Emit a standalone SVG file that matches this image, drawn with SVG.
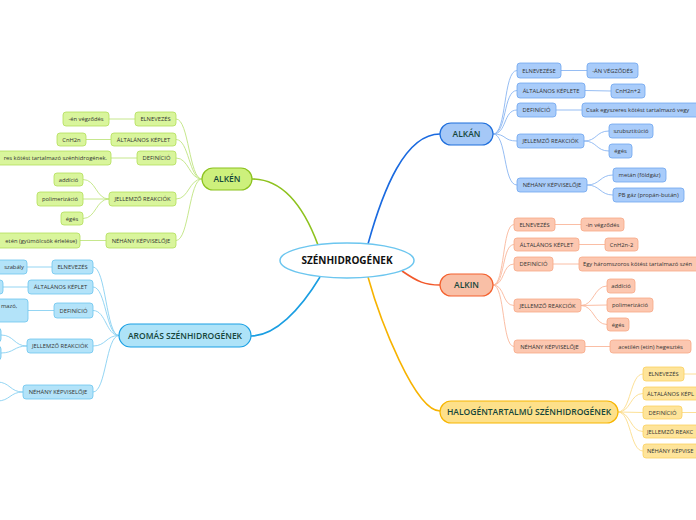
<svg xmlns="http://www.w3.org/2000/svg" width="696" height="520" viewBox="0 0 696 520">
<style>
text{font-family:"Open Sans","Liberation Sans",sans-serif;fill:#333;}
.t{font-size:5.8px;text-anchor:middle;}
.ts{font-size:5.8px;text-anchor:start;}
.te{font-size:5.8px;text-anchor:end;}
.m{font-size:8.5px;font-weight:600;text-anchor:middle;fill:#15463a;}
.c{font-size:10px;font-weight:700;text-anchor:middle;fill:#111;}
.ln{fill:none;stroke-width:0.9;}
.mc{fill:none;stroke-width:1.6;}
.bA{fill:#a9ccfa;stroke:#6ea6ef;stroke-width:0.8;}
.bI{fill:#fcc7b0;stroke:#f7a887;stroke-width:0.8;}
.bH{fill:#fee49a;stroke:#fbd060;stroke-width:0.8;}
.bE{fill:#d9f59c;stroke:#b2de5a;stroke-width:0.8;}
.bR{fill:#b3e3f9;stroke:#6cc5ef;stroke-width:0.8;}
.lA{stroke:#8ab6f2;}
.lI{stroke:#f9b79b;}
.lH{stroke:#fcdc8a;}
.lE{stroke:#c0e480;}
.lR{stroke:#88d0f2;}
</style>
<g id="connectors">
<path class="mc" stroke="#1a6ae0" d="M368,244 C383,190 405,134 440,134"/>
<path class="mc" stroke="#f2582a" d="M402,271 C418,282 425,285 440,285"/>
<path class="mc" stroke="#f7b300" d="M368,277 C380,320 415,411 440,411"/>
<path class="mc" stroke="#8ec21e" d="M318,245 C305,210 285,179 252,179"/>
<path class="mc" stroke="#1a9ee2" d="M320,277 C300,310 275,336 251,336"/>
<g class="ln lA">
<path d="M493,134 C507,134 503,70.5 517,70.5"/>
<path d="M493,134 C507,134 503,90.5 517,90.5"/>
<path d="M493,134 C507,134 503,110 517,110"/>
<path d="M493,134 C507,134 503,141 517,141"/>
<path d="M493,134 C507,134 503,185 517,185"/>
<path d="M561,70.5 L587,70.5"/>
<path d="M585,90.5 L611,91"/>
<path d="M556,110 L582,110"/>
<path d="M584,141 C597,141 596,131 609,131"/>
<path d="M584,141 C597,141 596,151 609,151"/>
<path d="M587,185 C600,185 600,175 613,175"/>
<path d="M587,185 C600,185 600,195 613,195"/>
</g>
<g class="ln lI">
<path d="M493,285 C505,285 502,224.5 514,224.5"/>
<path d="M493,285 C505,285 502,244.5 514,244.5"/>
<path d="M493,285 C505,285 502,264 514,264"/>
<path d="M493,285 C505,285 502,305.5 514,305.5"/>
<path d="M493,285 C505,285 502,346.5 514,346.5"/>
<path d="M555,224.5 L581,224.5"/>
<path d="M579,244.5 L605,244.5"/>
<path d="M553,264 L579,264"/>
<path d="M581,305.5 C594,305.5 594,286 607,286"/>
<path d="M581,305.5 L607,305"/>
<path d="M581,305.5 C594,305.5 594,324.5 607,324.5"/>
<path d="M585,346.5 L610,346.5"/>
</g>
<g class="ln lH">
<path d="M618,412 C631,412 630,374 643,374"/>
<path d="M618,412 C631,412 630,393.5 643,393.5"/>
<path d="M618,412 L643,412.5"/>
<path d="M618,412 C631,412 630,431.5 643,431.5"/>
<path d="M618,412 C631,412 630,451 643,451"/>
<path d="M684,374 L696,374"/>
<path d="M682,412.5 L696,412.5"/>
</g>
<g class="ln lE">
<path d="M202,179 C189,179 189,119 176,119"/>
<path d="M202,179 C189,179 189,139.5 176,139.5"/>
<path d="M202,179 C189,179 189,158 176,158"/>
<path d="M202,179 C189,179 189,199 176,199"/>
<path d="M202,179 C189,179 189,240.5 176,240.5"/>
<path d="M135,119 L109,119"/>
<path d="M111,139.5 L86,139.5"/>
<path d="M137,158 L111,158"/>
<path d="M109,199 C96,199 96,179.5 83,179.5"/>
<path d="M109,199 L83,199"/>
<path d="M109,199 C96,199 96,218.5 83,218.5"/>
<path d="M106,240.5 L80,240.5"/>
</g>
<g class="ln lR">
<path d="M119,335.5 C106,335.5 106,267 93,267"/>
<path d="M119,335.5 C106,335.5 106,287 93,287"/>
<path d="M119,335.5 C106,335.5 106,310.5 93,310.5"/>
<path d="M119,335.5 C106,335.5 106,346 93,346"/>
<path d="M119,335.5 C106,335.5 106,392 93,392"/>
<path d="M52,267 L27,267"/>
<path d="M28,287 L3,287"/>
<path d="M54,310.5 L28,310.5"/>
<path d="M27,346 C14,346 14,335 1,335"/>
<path d="M27,346 C14,346 14,353 1,353"/>
<path d="M23,392 C10,392 10,382 -3,382"/>
<path d="M23,392 C10,392 10,401 -3,401"/>
</g>
</g>

<g id="center">
<ellipse cx="347" cy="260.5" rx="67" ry="17.5" fill="#fff" stroke="#6cc6ef" stroke-width="1.5"/>
<text class="c" x="347" y="264">SZÉNHIDROGÉNEK</text>
</g>

<g id="alkan">
<rect x="440" y="123" width="53" height="22" rx="11" fill="#a5c8f7" stroke="#1f6fdc" stroke-width="1.2"/>
<text class="m" x="466.5" y="137">ALKÁN</text>
</g>
<g id="alkan-elnevezese"><rect class="bA" x="517" y="63" width="44" height="15" rx="3"/><text class="t" x="539" y="72.6">ELNEVEZÉSE</text></g>
<g id="alkan-vegzodes"><rect class="bA" x="587" y="63" width="51" height="15" rx="3"/><text class="t" x="612.5" y="72.6">-ÁN VÉGZŐDÉS</text></g>
<g id="alkan-keplet"><rect class="bA" x="517" y="83" width="68" height="15" rx="3"/><text class="t" x="551" y="92.6">ÁLTALÁNOS KÉPLETE</text></g>
<g id="alkan-cnh"><rect class="bA" x="611" y="84" width="34" height="14" rx="3"/><text class="t" x="628" y="93.1">CnH2n+2</text></g>
<g id="alkan-definicio"><rect class="bA" x="517" y="103" width="39" height="14" rx="3"/><text class="t" x="536.5" y="112.1">DEFINÍCIÓ</text></g>
<g id="alkan-def-text"><rect class="bA" x="582" y="103" width="130" height="14" rx="3"/><text class="ts" x="586" y="112.1">Csak egyszeres kötést tartalmazó vegy</text></g>
<g id="alkan-reakciok"><rect class="bA" x="517" y="134" width="67" height="14" rx="3"/><text class="t" x="550.5" y="143.1">JELLEMZŐ REAKCIÓK</text></g>
<g id="alkan-szubsztitucio"><rect class="bA" x="609" y="124" width="44" height="14" rx="3"/><text class="t" x="631" y="133.1">szubsztitúció</text></g>
<g id="alkan-eges"><rect class="bA" x="609" y="144" width="23" height="14" rx="3"/><text class="t" x="620.5" y="153.1">égés</text></g>
<g id="alkan-kepviselo"><rect class="bA" x="517" y="178" width="70" height="14" rx="3"/><text class="t" x="552" y="187.1">NÉHÁNY KÉPVISELŐJE</text></g>
<g id="alkan-metan"><rect class="bA" x="613" y="168" width="53" height="14" rx="3"/><text class="t" x="639.5" y="177.1">metán (földgáz)</text></g>
<g id="alkan-pb"><rect class="bA" x="613" y="188" width="71" height="14" rx="3"/><text class="t" x="648.5" y="197.1">PB gáz (propán-bután)</text></g>

<g id="alkin">
<rect x="440" y="274" width="53" height="22" rx="11" fill="#f9bfa6" stroke="#f4612e" stroke-width="1.2"/>
<text class="m" x="466.5" y="288">ALKIN</text>
</g>
<g id="alkin-elnevezes"><rect class="bI" x="514" y="218" width="41" height="13" rx="3"/><text class="t" x="534.5" y="226.6">ELNEVEZÉS</text></g>
<g id="alkin-vegzodes"><rect class="bI" x="581" y="218" width="43" height="13" rx="3"/><text class="t" x="602.5" y="226.6">-in végződés</text></g>
<g id="alkin-keplet"><rect class="bI" x="514" y="238" width="65" height="13" rx="3"/><text class="t" x="546.5" y="246.6">ÁLTALÁNOS KÉPLET</text></g>
<g id="alkin-cnh"><rect class="bI" x="605" y="238" width="33" height="13" rx="3"/><text class="t" x="621.5" y="246.6">CnH2n-2</text></g>
<g id="alkin-definicio"><rect class="bI" x="514" y="257" width="39" height="14" rx="3"/><text class="t" x="533.5" y="266.1">DEFINÍCIÓ</text></g>
<g id="alkin-def-text"><rect class="bI" x="579" y="257" width="140" height="14" rx="3"/><text class="ts" x="583" y="266.1">Egy háromszoros kötést tartalmazó szén</text></g>
<g id="alkin-reakciok"><rect class="bI" x="514" y="299" width="67" height="13" rx="3"/><text class="t" x="547.5" y="307.6">JELLEMZŐ REAKCIÓK</text></g>
<g id="alkin-addicio"><rect class="bI" x="607" y="279" width="28" height="14" rx="3"/><text class="t" x="621" y="288.1">addíció</text></g>
<g id="alkin-polimerizacio"><rect class="bI" x="607" y="298" width="46" height="14" rx="3"/><text class="t" x="630" y="307.1">polimerizáció</text></g>
<g id="alkin-eges"><rect class="bI" x="607" y="318" width="22" height="13" rx="3"/><text class="t" x="618" y="326.6">égés</text></g>
<g id="alkin-kepviselo"><rect class="bI" x="514" y="340" width="71" height="13" rx="3"/><text class="t" x="549.5" y="348.6">NÉHÁNY KÉPVISELŐJE</text></g>
<g id="alkin-acetilen"><rect class="bI" x="610" y="340" width="81" height="13" rx="3"/><text class="t" x="650.5" y="348.6">acetilén (etin) hegesztés</text></g>

<g id="halogen">
<rect x="440" y="401" width="178" height="22" rx="11" fill="#fde08a" stroke="#f7b500" stroke-width="1.2"/>
<text class="m" x="529" y="415">HALOGÉNTARTALMÚ SZÉNHIDROGÉNEK</text>
</g>
<g id="halogen-elnevezes"><rect class="bH" x="643" y="367" width="41" height="14" rx="3"/><text class="t" x="663.5" y="376.1">ELNEVEZÉS</text></g>
<g id="halogen-keplet"><rect class="bH" x="643" y="387" width="70" height="13" rx="3"/><text class="ts" x="647" y="395.6">ÁLTALÁNOS KÉPL</text></g>
<g id="halogen-definicio"><rect class="bH" x="643" y="406" width="39" height="13" rx="3"/><text class="t" x="662.5" y="414.6">DEFINÍCIÓ</text></g>
<g id="halogen-reakciok"><rect class="bH" x="643" y="425" width="70" height="13" rx="3"/><text class="ts" x="647" y="433.6">JELLEMZŐ REAKC</text></g>
<g id="halogen-kepviselo"><rect class="bH" x="643" y="444" width="72" height="14" rx="3"/><text class="ts" x="647" y="453.1">NÉHÁNY KÉPVISE</text></g>

<g id="alken">
<rect x="202" y="168" width="50" height="22" rx="11" fill="#cdf07c" stroke="#8cc21f" stroke-width="1.2"/>
<text class="m" x="227" y="182">ALKÉN</text>
</g>
<g id="alken-elnevezes"><rect class="bE" x="135" y="112" width="41" height="14" rx="3"/><text class="t" x="155.5" y="121.1">ELNEVEZÉS</text></g>
<g id="alken-vegzodes"><rect class="bE" x="63" y="112" width="46" height="14" rx="3"/><text class="t" x="86" y="121.1">-én végződés</text></g>
<g id="alken-keplet"><rect class="bE" x="111" y="133" width="65" height="13" rx="3"/><text class="t" x="143.5" y="141.6">ÁLTALÁNOS KÉPLET</text></g>
<g id="alken-cnh"><rect class="bE" x="57" y="133" width="29" height="13" rx="3"/><text class="t" x="71.5" y="141.6">CnH2n</text></g>
<g id="alken-definicio"><rect class="bE" x="137" y="151" width="39" height="14" rx="3"/><text class="t" x="156.5" y="160.1">DEFINÍCIÓ</text></g>
<g id="alken-def-text"><rect class="bE" x="-60" y="151" width="171" height="14" rx="3"/><text class="te" x="107" y="160.1">res kötést tartalmazó szénhidrogének.</text></g>
<g id="alken-reakciok"><rect class="bE" x="109" y="192" width="67" height="14" rx="3"/><text class="t" x="142.5" y="201.1">JELLEMZŐ REAKCIÓK</text></g>
<g id="alken-addicio"><rect class="bE" x="54" y="173" width="29" height="13" rx="3"/><text class="t" x="68.5" y="181.6">addíció</text></g>
<g id="alken-polimerizacio"><rect class="bE" x="37" y="192" width="46" height="14" rx="3"/><text class="t" x="60" y="201.1">polimerizáció</text></g>
<g id="alken-eges"><rect class="bE" x="61" y="212" width="22" height="13" rx="3"/><text class="t" x="72" y="220.6">égés</text></g>
<g id="alken-kepviselo"><rect class="bE" x="106" y="233" width="70" height="15" rx="3"/><text class="t" x="141" y="242.6">NÉHÁNY KÉPVISELŐJE</text></g>
<g id="alken-eten"><rect class="bE" x="-20" y="233" width="100" height="15" rx="3"/><text class="te" x="77" y="242.6">etén (gyümölcsök érlelése)</text></g>

<g id="aromas">
<rect x="119" y="324" width="132" height="23" rx="11.5" fill="#aee3f8" stroke="#1aa0e4" stroke-width="1.2"/>
<text class="m" x="185" y="338.5">AROMÁS SZÉNHIDROGÉNEK</text>
</g>
<g id="aromas-elnevezes"><rect class="bR" x="52" y="260" width="41" height="14" rx="3"/><text class="t" x="72.5" y="269.1">ELNEVEZÉS</text></g>
<g id="aromas-szabaly"><rect class="bR" x="-30" y="260" width="57" height="14" rx="3"/><text class="te" x="24" y="269.1">szabály</text></g>
<g id="aromas-keplet"><rect class="bR" x="28" y="280" width="65" height="14" rx="3"/><text class="t" x="60.5" y="289.1">ÁLTALÁNOS KÉPLET</text></g>
<g id="aromas-keplet-val"><rect class="bR" x="-40" y="280" width="43" height="14" rx="3"/></g>
<g id="aromas-definicio"><rect class="bR" x="54" y="303" width="39" height="15" rx="3"/><text class="t" x="73.5" y="312.6">DEFINÍCIÓ</text></g>
<g id="aromas-def-text"><rect class="bR" x="-40" y="299" width="68" height="23" rx="3"/><text class="ts" x="1" y="308">mazó,</text></g>
<g id="aromas-reakciok"><rect class="bR" x="27" y="339" width="66" height="14" rx="3"/><text class="t" x="60" y="348.1">JELLEMZŐ REAKCIÓK</text></g>
<g id="aromas-r1"><rect class="bR" x="-40" y="328" width="41" height="14" rx="3"/></g>
<g id="aromas-r2"><rect class="bR" x="-40" y="346" width="41" height="14" rx="3"/></g>
<g id="aromas-kepviselo"><rect class="bR" x="23" y="385" width="70" height="14" rx="3"/><text class="t" x="58" y="394.1">NÉHÁNY KÉPVISELŐJE</text></g>
</svg>
